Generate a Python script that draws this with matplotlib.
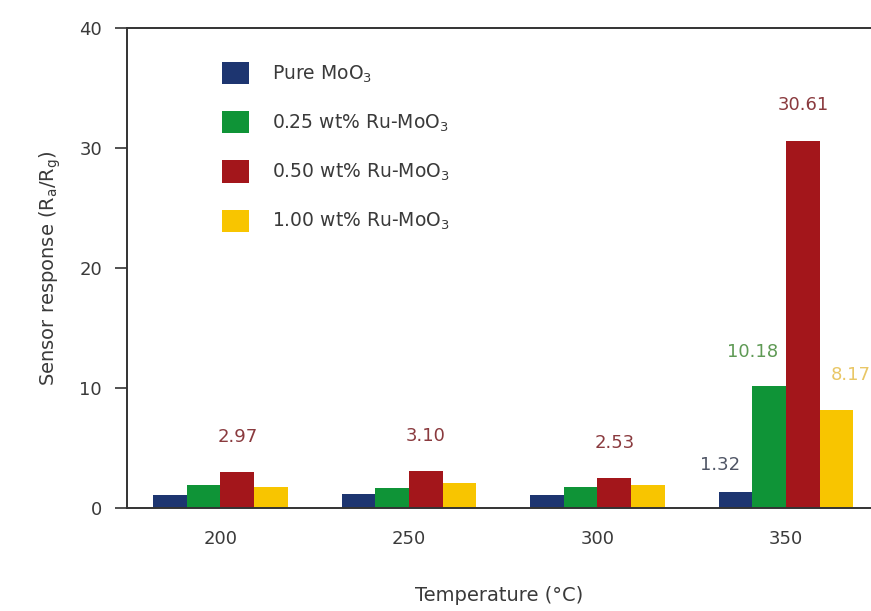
import matplotlib
matplotlib.use("Agg")
import matplotlib.pyplot as plt
import numpy as np

plt.rcParams['font.family'] = ['DejaVu Sans']
plt.rcParams['mathtext.default'] = 'regular'

temperatures = ["200", "250", "300", "350"]
series_names = ["Pure MoO$_3$", "0.25 wt% Ru-MoO$_3$",
                "0.50 wt% Ru-MoO$_3$", "1.00 wt% Ru-MoO$_3$"]
pure_moo3 = [1.05, 1.17, 1.05, 1.32]
ru_025 = [1.9, 1.7, 1.72, 10.18]
ru_050 = [2.97, 3.10, 2.53, 30.61]
ru_100 = [1.75, 2.06, 1.88, 8.17]
series = [pure_moo3, ru_025, ru_050, ru_100]
colors = ["#1d3570", "#0f9437", "#a3161b", "#f8c500"]

# value labels: (series index, category index, text colour, dx px, dy px)
labelled = [
    (2, 0, "#8a3a3e", 0, 35), (2, 1, "#8a3a3e", 0, 35), (2, 2, "#8a3a3e", 0, 35),
    (2, 3, "#8a3a3e", 0, 36), (0, 3, "#4f5565", -15, 27),
    (1, 3, "#5f9a55", -17, 34), (3, 3, "#e9c766", 14, 35),
]

fig = plt.figure(figsize=(8.71, 6.11), dpi=100)
ax = fig.add_axes([127 / 871, 103 / 611, 744 / 871, 480 / 611])

x = np.arange(len(temperatures))
w = 0.179
for i, (vals, c) in enumerate(zip(series, colors)):
    ax.bar(x + (i - 1.5) * w, vals, w, color=c, label=series_names[i],
           edgecolor='none')

px = 0.72  # points per pixel at 100 dpi
for si, ci, tc, dx, dy in labelled:
    v = series[si][ci]
    ax.annotate(f"{v:.2f}", (x[ci] + (si - 1.5) * w, v),
                xytext=(dx * px, dy * px), textcoords='offset points',
                ha='center', va='center', fontsize=13, color=tc)

ax.set_xlim(-0.496, 3.451)
ax.set_ylim(0, 40)
ax.set_yticks([0, 10, 20, 30, 40])
ax.set_xticks(x)
ax.set_xticklabels(temperatures)
ax.tick_params(axis='x', length=0, pad=16, labelsize=13, labelcolor='#3a3a3a')
ax.tick_params(axis='y', length=9, width=1.2, direction='out', pad=9,
               labelsize=13, labelcolor='#3a3a3a', color='#333333')
ax.spines['right'].set_visible(False)
for s in ['left', 'top', 'bottom']:
    ax.spines[s].set_color('#333333')
    ax.spines[s].set_linewidth(1.4)

ax.set_xlabel("Temperature (\u00b0C)", fontsize=14, color='#3a3a3a', labelpad=27)
ax.set_ylabel("Sensor response (R$_a$/R$_g$)", fontsize=14, color='#3a3a3a',
              labelpad=12)

ax.legend(loc='upper left', bbox_to_anchor=(205 / 871, 1 - 45 / 611),
          bbox_transform=fig.transFigure, frameon=False, fontsize=13.5,
          handlelength=1.45, handleheight=1.45, handletextpad=1.2,
          labelspacing=1.42, labelcolor='#3a3a3a')

fig.savefig("out.png", dpi=100)
